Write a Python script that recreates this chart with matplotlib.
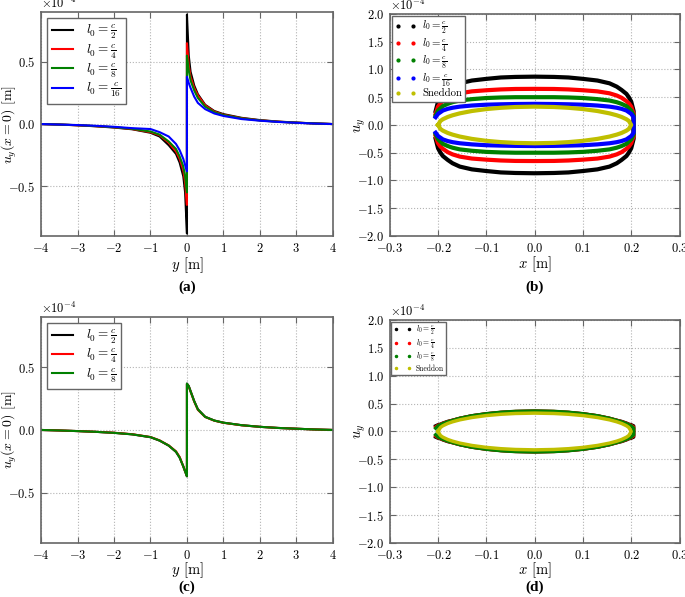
import numpy as np
import matplotlib
matplotlib.use('Agg')
import matplotlib.pyplot as plt
from matplotlib.lines import Line2D

plt.rcParams['font.family'] = 'serif'
plt.rcParams['font.serif'] = ['cmr10']
plt.rcParams['mathtext.fontset'] = 'cm'
plt.rcParams['axes.formatter.use_mathtext'] = True

# ---------------- data (values in units of 1e-4 m) ----------------
# (a) u_y along x=0, different l0
ya = [-4, -3.5, -3, -2.5, -2, -1.5, -1, -0.75, -0.5, -0.3, -0.2, -0.1, -0.05, 0,
      0, 0.05, 0.1, 0.2, 0.3, 0.5, 0.75, 1, 1.5, 2, 2.5, 3, 3.5, 4]
a_c2  = [0, -0.004, -0.01, -0.018, -0.028, -0.042, -0.07, -0.1, -0.17, -0.24, -0.31, -0.42, -0.55, -0.88,
         0.88, 0.55, 0.42, 0.31, 0.24, 0.155, 0.105, 0.08, 0.05, 0.032, 0.02, 0.012, 0.005, 0]
a_c4  = [0, -0.004, -0.01, -0.017, -0.026, -0.04, -0.065, -0.09, -0.15, -0.22, -0.28, -0.37, -0.47, -0.65,
         0.65, 0.47, 0.38, 0.29, 0.23, 0.15, 0.1, 0.075, 0.047, 0.03, 0.019, 0.011, 0.005, 0]
a_c8  = [0, -0.004, -0.009, -0.016, -0.025, -0.038, -0.06, -0.085, -0.14, -0.2, -0.26, -0.34, -0.42, -0.55,
         0.55, 0.43, 0.35, 0.27, 0.21, 0.14, 0.095, 0.072, 0.045, 0.029, 0.018, 0.011, 0.005, 0]
a_c16 = [0, -0.004, -0.008, -0.014, -0.022, -0.033, -0.04, -0.065, -0.1, -0.16, -0.21, -0.28, -0.33, -0.38,
         0.38, 0.33, 0.29, 0.22, 0.17, 0.12, 0.085, 0.065, 0.04, 0.027, 0.017, 0.01, 0.004, 0]

# (c) same, finer mesh
c_c2 = [0, -0.004, -0.009, -0.015, -0.023, -0.035, -0.058, -0.085, -0.125, -0.175, -0.22, -0.29, -0.33, -0.37,
        0.37, 0.35, 0.31, 0.23, 0.165, 0.105, 0.075, 0.058, 0.038, 0.025, 0.016, 0.01, 0.004, 0]
c_c4 = [0, -0.004, -0.009, -0.015, -0.022, -0.034, -0.056, -0.083, -0.123, -0.17, -0.215, -0.29, -0.33, -0.365,
        0.365, 0.345, 0.305, 0.225, 0.16, 0.103, 0.074, 0.057, 0.037, 0.025, 0.016, 0.01, 0.004, 0]
c_c8 = [0, -0.004, -0.009, -0.015, -0.023, -0.035, -0.057, -0.084, -0.124, -0.173, -0.22, -0.29, -0.33, -0.368,
        0.368, 0.348, 0.307, 0.228, 0.163, 0.104, 0.075, 0.058, 0.038, 0.025, 0.016, 0.01, 0.004, 0]

# (b) crack opening profiles (upper half)
xb = [-0.205, -0.2, -0.195, -0.19, -0.18, -0.17, -0.155, -0.13, -0.1, -0.07, -0.04, 0,
      0.04, 0.07, 0.1, 0.13, 0.155, 0.17, 0.18, 0.19, 0.195, 0.2, 0.205]
b_c2  = [0.25, 0.42, 0.5, 0.56, 0.63, 0.69, 0.75, 0.8, 0.83, 0.855, 0.865, 0.87,
         0.865, 0.855, 0.83, 0.8, 0.75, 0.69, 0.63, 0.56, 0.5, 0.42, 0.25]
b_c4  = [0.2, 0.33, 0.39, 0.43, 0.49, 0.53, 0.57, 0.605, 0.625, 0.64, 0.648, 0.65,
         0.648, 0.64, 0.625, 0.605, 0.57, 0.53, 0.49, 0.43, 0.39, 0.33, 0.2]
b_c8  = [0.17, 0.26, 0.3, 0.34, 0.38, 0.41, 0.44, 0.465, 0.485, 0.495, 0.5, 0.5,
         0.5, 0.495, 0.485, 0.465, 0.44, 0.41, 0.38, 0.34, 0.3, 0.26, 0.17]
b_c16 = [0.14, 0.2, 0.23, 0.26, 0.29, 0.31, 0.33, 0.35, 0.365, 0.372, 0.377, 0.38,
         0.377, 0.372, 0.365, 0.35, 0.33, 0.31, 0.29, 0.26, 0.23, 0.2, 0.14]

xs = [-0.2, -0.195, -0.19, -0.18, -0.17, -0.155, -0.13, -0.1, -0.07, -0.04, 0,
      0.04, 0.07, 0.1, 0.13, 0.155, 0.17, 0.18, 0.19, 0.195, 0.2]
sneddon = [0, 0.073, 0.103, 0.144, 0.174, 0.209, 0.251, 0.286, 0.309, 0.323, 0.33,
           0.323, 0.309, 0.286, 0.251, 0.209, 0.174, 0.144, 0.103, 0.073, 0]

# (d) finer mesh
d_c2 = [0.1, 0.12, 0.13, 0.15, 0.18, 0.2, 0.235, 0.28, 0.315, 0.34, 0.355, 0.362,
        0.355, 0.34, 0.315, 0.28, 0.235, 0.2, 0.18, 0.15, 0.13, 0.12, 0.1]
d_c4 = [0.08, 0.11, 0.125, 0.145, 0.175, 0.2, 0.235, 0.28, 0.317, 0.342, 0.358, 0.365,
        0.358, 0.342, 0.317, 0.28, 0.235, 0.2, 0.175, 0.145, 0.125, 0.11, 0.08]
d_c8 = [0.06, 0.1, 0.12, 0.14, 0.172, 0.198, 0.235, 0.281, 0.318, 0.344, 0.36, 0.367,
        0.36, 0.344, 0.318, 0.281, 0.235, 0.198, 0.172, 0.14, 0.12, 0.1, 0.06]

lab2 = r'$l_0=\frac{c}{2}$'
lab4 = r'$l_0=\frac{c}{4}$'
lab8 = r'$l_0=\frac{c}{8}$'
lab16 = r'$l_0=\frac{c}{16}$'
GREEN = (0, 0.5, 0)
YELLOW = (0.75, 0.75, 0)
S = 1e-4


def style(ax):
	for sp in ax.spines.values():
		sp.set_color('0.4')
		sp.set_linewidth(1.2)
	ax.tick_params(direction='in', top=True, right=True, length=4, width=0.8,
	               color='0.4', labelsize=9, pad=4)
	ax.grid(True, linestyle=':', color='0.7', linewidth=0.8)
	ax.ticklabel_format(axis='y', style='sci', scilimits=(-4, -4))
	ax.yaxis.get_offset_text().set_fontsize(9)


def closed(x, up):
	x = np.array(x)
	up = np.array(up)
	return np.concatenate((x, x[::-1])), np.concatenate((up, -up[::-1])) * S


fig = plt.figure(figsize=(6.85, 5.97), dpi=100)
axa = fig.add_axes([0.0599, 0.6047, 0.426, 0.375])
axb = fig.add_axes([0.569, 0.6047, 0.423, 0.372])
axc = fig.add_axes([0.0599, 0.0905, 0.426, 0.3786])
axd = fig.add_axes([0.569, 0.0905, 0.423, 0.3735])

# (a)
ya = np.array(ya)
axa.plot(ya, np.array(a_c2) * S, 'k', lw=1.5, label=lab2)
axa.plot(ya, np.array(a_c4) * S, 'r', lw=1.5, label=lab4)
axa.plot(ya, np.array(a_c8) * S, color=GREEN, lw=1.5, label=lab8)
axa.plot(ya, np.array(a_c16) * S, 'b', lw=1.5, label=lab16)

# (c)
axc.plot(ya, np.array(c_c2) * S, 'k', lw=1.5, label=lab2)
axc.plot(ya, np.array(c_c4) * S, 'r', lw=1.5, label=lab4)
axc.plot(ya, np.array(c_c8) * S, color=GREEN, lw=1.5, label=lab8)

for ax, ly in ((axa, -0.085), (axc, -0.076)):
	ax.set_xlim(-4, 4)
	ax.set_ylim(-0.9e-4, 0.9e-4)
	ax.set_xticks(np.arange(-4, 5, 1))
	ax.set_yticks([-0.5e-4, 0, 0.5e-4])
	ax.set_xlabel(r'$y$ [m]', fontsize=10.5)
	ax.set_ylabel(r'$u_y(x=0)$ [m]', fontsize=10, va='center')
	ax.xaxis.set_label_coords(0.5, ly)
	ax.yaxis.set_label_coords(-0.108, 0.5)
	style(ax)
	ax.legend(loc='upper left', fontsize=9.5, handlelength=1.6, handletextpad=1.0,
	          fancybox=False, edgecolor='0.4', framealpha=1, borderaxespad=0.45,
	          labelspacing=0.05, borderpad=0.35)

# (b)
for xx, yy, col in ((xb, b_c2, 'k'), (xb, b_c4, 'r'), (xb, b_c8, GREEN),
                    (xb, b_c16, 'b'), (xs, sneddon, YELLOW)):
	px, py = closed(xx, yy)
	axb.plot(px, py, color=col, lw=3)

# (d)
for xx, yy, col in ((xb, d_c2, 'k'), (xb, d_c4, 'r'), (xb, d_c8, GREEN),
                    (xs, sneddon, YELLOW)):
	px, py = closed(xx, yy)
	axd.plot(px, py, color=col, lw=2.5)

def dots(cols, labels, ax, fs, ms, hl):
	h = [Line2D([], [], ls='None', marker='.', ms=ms, color=c) for c in cols]
	ax.legend(h, labels, loc='upper left', numpoints=2, fontsize=fs, handlelength=hl,
	          fancybox=False, edgecolor='0.4', framealpha=1, borderaxespad=0.2,
	          labelspacing=0.02, handletextpad=0.6, borderpad=0.3)

dots(['k', 'r', GREEN, 'b', YELLOW], [lab2, lab4, lab8, lab16, 'Sneddon'], axb, 7.8, 4, 1.9)
dots(['k', 'r', GREEN, YELLOW], [lab2, lab4, lab8, 'Sneddon'], axd, 5.5, 3, 2.3)

for ax, ly in ((axb, -0.085), (axd, -0.076)):
	ax.set_xlim(-0.3, 0.3)
	ax.set_ylim(-2e-4, 2e-4)
	ax.set_xticks(np.arange(-0.3, 0.31, 0.1))
	ax.set_yticks(np.arange(-2e-4, 2.01e-4, 0.5e-4))
	ax.set_xlabel(r'$x$ [m]', fontsize=10.5)
	ax.set_ylabel(r'$u_y$', fontsize=10.5, va='center')
	ax.xaxis.set_label_coords(0.5, ly)
	ax.yaxis.set_label_coords(-0.1, 0.5)
	style(ax)

for x, y, t in ((0.273, 0.519, '(a)'), (0.781, 0.519, '(b)'),
                (0.273, 0.016, '(c)'), (0.781, 0.016, '(d)')):
	fig.text(x, y, t, ha='center', va='center', fontsize=11, fontweight='bold',
	         family='Liberation Serif')

fig.savefig('out.png', dpi=100)
